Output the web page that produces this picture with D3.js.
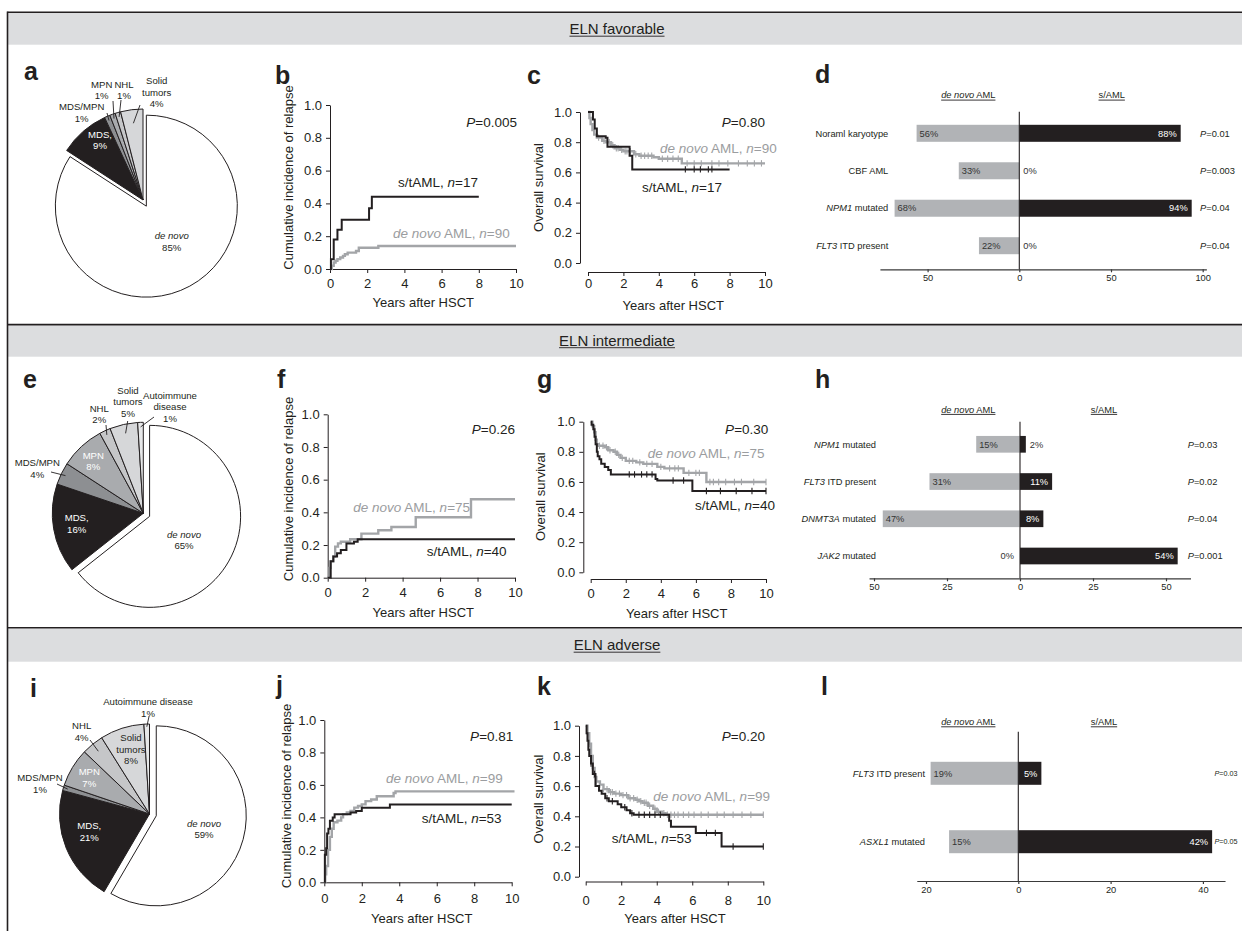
<!DOCTYPE html>
<html>
<head>
<meta charset="utf-8">
<script src="https://cdn.jsdelivr.net/npm/d3@7/dist/d3.min.js"></script>
<style>
html,body{margin:0;padding:0;background:#fff;}
svg{display:block;font-family:"Liberation Sans",Arial,Helvetica,sans-serif;}
</style>
</head>
<body>
<svg id="fig" width="1242" height="931"></svg>
<script>
// ================= DATA =================
const sectionTitles = ["ELN favorable", "ELN intermediate", "ELN adverse"];
const panelLetters = ["a","b","c","d","e","f","g","h","i","j","k","l"];

const pieCategories = ["de novo","MDS","MDS/MPN","MPN","NHL","Solid tumors","Autoimmune disease"];
const pieFavorable    = [85, 9, 1, 1, 1, 4, 0];
const pieIntermediate = [65, 16, 4, 8, 2, 5, 1];
const pieAdverse      = [59, 21, 1, 7, 4, 8, 1];

const kmYearTicks = [0, 2, 4, 6, 8, 10];
const kmProbTicks = [0, 0.2, 0.4, 0.6, 0.8, 1.0];

const nSecondary = [17, 40, 53];
const nDeNovo    = [90, 75, 99];
const pRelapse   = ["0.005", "0.26", "0.81"];
const pSurvival  = ["0.80", "0.30", "0.20"];

// cumulative incidence of relapse [years, value]
const cirFavSecondary = [[0,0],[0.05,0.06],[0.2,0.18],[0.4,0.24],[0.63,0.30],[2.1,0.37],[2.25,0.44],[8.0,0.44]];
const cirFavDeNovo    = [[0,0],[0.1,0.02],[0.2,0.04],[0.3,0.05],[0.4,0.06],[0.55,0.07],[0.7,0.08],[0.8,0.09],[0.95,0.10],[1.4,0.11],[1.55,0.13],[2.6,0.14],[10,0.14]];
const cirIntSecondary = [[0,0],[0.16,0.10],[0.3,0.13],[0.5,0.15],[0.7,0.17],[1.0,0.21],[1.4,0.22],[1.6,0.235],[10,0.235]];
const cirIntDeNovo    = [[0,0],[0.1,0.06],[0.15,0.10],[0.3,0.13],[0.4,0.19],[0.55,0.21],[0.7,0.22],[1.2,0.235],[1.8,0.27],[2.7,0.29],[3.4,0.31],[4.7,0.37],[7.65,0.48],[10,0.48]];
const cirAdvSecondary = [[0,0],[0.03,0.17],[0.1,0.21],[0.15,0.30],[0.22,0.33],[0.3,0.38],[0.45,0.40],[0.55,0.42],[1.4,0.43],[1.7,0.44],[2.0,0.46],[3.5,0.48],[10,0.48]];
const cirAdvDeNovo    = [[0,0],[0.05,0.05],[0.1,0.10],[0.2,0.20],[0.3,0.28],[0.4,0.33],[0.5,0.37],[0.7,0.38],[0.9,0.40],[1.0,0.42],[1.2,0.43],[1.4,0.44],[1.6,0.46],[1.8,0.47],[2.0,0.48],[2.2,0.50],[2.5,0.51],[2.8,0.53],[3.7,0.55],[3.8,0.56],[10.15,0.56]];

// overall survival [years, value]
const osFavSecondary = [[0,1],[0.28,0.95],[0.38,0.89],[0.5,0.84],[1.0,0.83],[1.1,0.77],[2.35,0.71],[2.5,0.62],[8.0,0.62]];
const osFavDeNovo    = [[0,1],[0.08,0.96],[0.15,0.92],[0.25,0.88],[0.35,0.85],[0.5,0.83],[0.8,0.81],[1.0,0.80],[1.3,0.78],[1.5,0.76],[1.8,0.75],[2.0,0.74],[2.6,0.72],[2.9,0.71],[3.7,0.70],[4.0,0.69],[5.3,0.66],[10,0.66]];
const osIntSecondary = [[0,1],[0.05,0.98],[0.15,0.95],[0.22,0.90],[0.28,0.85],[0.35,0.80],[0.4,0.77],[0.5,0.75],[0.6,0.72],[0.8,0.70],[1.0,0.68],[1.15,0.65],[3.7,0.62],[3.8,0.61],[5.8,0.54],[10,0.54]];
const osIntDeNovo    = [[0,1],[0.1,0.97],[0.2,0.93],[0.28,0.88],[0.35,0.85],[0.45,0.84],[0.8,0.83],[1.0,0.81],[1.3,0.80],[1.5,0.78],[1.7,0.76],[2.0,0.74],[2.6,0.73],[3.0,0.72],[3.8,0.70],[4.2,0.69],[5.3,0.66],[6.6,0.60],[10,0.60]];
const osAdvSecondary = [[0,1],[0.05,0.95],[0.1,0.90],[0.15,0.84],[0.2,0.80],[0.3,0.75],[0.4,0.68],[0.55,0.60],[0.75,0.57],[0.9,0.55],[1.1,0.52],[1.3,0.50],[1.8,0.48],[2.0,0.46],[2.3,0.44],[2.5,0.42],[2.7,0.41],[4.7,0.37],[4.8,0.33],[6.2,0.29],[7.65,0.20],[10,0.20]];
const osAdvDeNovo    = [[0,1],[0.1,0.95],[0.2,0.88],[0.3,0.80],[0.4,0.72],[0.5,0.66],[0.6,0.63],[0.8,0.61],[1.0,0.58],[1.3,0.56],[1.6,0.55],[2.0,0.54],[2.4,0.52],[2.8,0.51],[3.0,0.50],[3.2,0.49],[3.5,0.47],[3.8,0.45],[4.0,0.43],[4.3,0.42],[4.5,0.41],[10,0.41]];

// censoring times (years)
const censFavSecondary = [5.5, 6.0, 6.35, 6.8, 7.0];
const censFavDeNovo    = [0.6,0.9,1.2,1.4,1.6,1.7,1.9,2.1,2.2,2.4,2.7,3.0,3.2,3.4,3.6,4.2,4.5,4.8,5.1,5.6,6.0,6.4,7.0,7.4,7.9,8.5,9.0,9.4,9.8];
const censIntSecondary = [2.2,2.5,2.9,3.2,3.5,4.7,5.3,6.6,7.4,8.3,9.2,10];
const censIntDeNovo    = [0.5,0.7,0.9,1.1,1.4,1.6,1.8,2.2,2.4,2.8,3.2,3.5,4.0,4.5,4.8,5.0,5.6,6.0,6.2,6.8,7.0,7.3,7.7,8.2,8.6,9.3,10];
const censAdvSecondary = [0.3,0.5,1.2,1.5,2.2,2.6,3.0,3.3,3.6,3.9,4.2,6.8,7.3,8.3,10];
const censAdvDeNovo    = [0.1,0.2,0.3,0.6,0.8,1.0,1.2,1.4,1.5,1.7,1.9,2.1,2.3,2.5,2.7,2.9,3.1,3.3,3.4,3.6,3.9,4.1,4.4,4.6,4.8,5.0,5.2,5.5,5.8,6.1,6.5,6.9,7.4,7.8,8.3,8.8,9.3,10];

// bar panels
const barHeaders = ["*de novo* AML", "s/AML"];
const favCategories = ["Noraml karyotype", "CBF AML", "*NPM1* mutated", "*FLT3* ITD present"];
const favDeNovo     = [56, 33, 68, 22];
const favSecondary  = [88, 0, 94, 0];
const favP          = ["0.01", "0.003", "0.04", "0.04"];
const favTicks      = [-50, 0, 50, 100];

const intCategories = ["*NPM1* mutated", "*FLT3* ITD present", "*DNMT3A* mutated", "*JAK2* mutated"];
const intDeNovo     = [15, 31, 47, 0];
const intSecondary  = [2, 11, 8, 54];
const intP          = ["0.03", "0.02", "0.04", "0.001"];
const intTicks      = [-50, -25, 0, 25, 50];

const advCategories = ["*FLT3* ITD present", "*ASXL1* mutated"];
const advDeNovo     = [19, 15];
const advSecondary  = [5, 42];
const advP          = ["0.03", "0.05"];
const advTicks      = [-20, 0, 20, 40];

// ================= STYLE / LAYOUT =================
const INK = "#231f20";
const GREY_LINE = "#a3a5a8";
const GREY_TEXT = "#9b9da0";
const BAR_GREY = "#b1b3b6";
const BAND = "#dcdddf";
const pieColors = ["#ffffff", INK, "#8d8f92", "#a9abae", "#c5c6c8", "#d6d7d9", "#e7e8e9"];

const svg = d3.select("#fig");

function rich(g, str, attrs) {
  const t = g.append("text");
  Object.entries(attrs).forEach(([k, v]) => t.attr(k, v));
  str.split("*").forEach((s, i) => {
    if (s) t.append("tspan").attr("font-style", i % 2 ? "italic" : null).text(s);
  });
  return t;
}
function underline(t, y, color) {
  const b = t.node().getBBox();
  d3.select(t.node().parentNode).append("line")
    .attr("x1", b.x).attr("x2", b.x + b.width).attr("y1", y).attr("y2", y)
    .attr("stroke", color).attr("stroke-width", 0.9);
}

// ---------- frame ----------
const frame = svg.append("g");
const bands = [[13, 44.7], [325.4, 356.7], [628.6, 661.7]];
const bandLines = [12.3, 324.6, 627.8];
const titleBase = [34, 345.5, 650];
bands.forEach((b, i) => {
  frame.append("rect").attr("x", 8).attr("y", b[0]).attr("width", 1240).attr("height", b[1] - b[0]).attr("fill", BAND);
  frame.append("line").attr("x1", 7.5).attr("x2", 1242).attr("y1", bandLines[i]).attr("y2", bandLines[i])
    .attr("stroke", INK).attr("stroke-width", 1.6);
  const t = rich(frame, sectionTitles[i], {x: 617, y: titleBase[i], "text-anchor": "middle", "font-size": 15, fill: INK});
  underline(t, titleBase[i] + 2.2, INK);
});
frame.append("line").attr("x1", 7.5).attr("x2", 7.5).attr("y1", 11.5).attr("y2", 931).attr("stroke", INK).attr("stroke-width", 1.6);

// ---------- panel letters ----------
const letterPos = [[24,80],[275,84],[527,84],[815,83],[23,388],[277,388],[537,388],[815,388],[30,697],[276,694],[537,695],[821,695]];
panelLetters.forEach((L, i) => {
  svg.append("text").attr("x", letterPos[i][0]).attr("y", letterPos[i][1]).attr("font-size", 25)
    .attr("font-weight", "bold").attr("fill", INK).text(L);
});

// ---------- pies ----------
function drawPie(values, cfg, labels) {
  const g = svg.append("g").attr("transform", `translate(${cfg.cx},${cfg.cy})`);
  const arcs = d3.pie().sort(null).value(d => d)(values);
  const arc = d3.arc().innerRadius(0).outerRadius(cfg.r);
  arcs.forEach((a, i) => {
    if (a.data === 0) return;
    let tx = 0, ty = 0;
    if (i === 0) {
      const m = (a.startAngle + a.endAngle) / 2;
      tx = Math.sin(m) * cfg.explode; ty = -Math.cos(m) * cfg.explode;
    }
    g.append("path").attr("d", arc(a)).attr("transform", `translate(${tx},${ty})`)
      .attr("fill", pieColors[i]).attr("stroke", INK).attr("stroke-width", 1).attr("stroke-linejoin", "round");
  });
  labels.forEach(lb => {
    const a = arcs[lb.i];
    const lines = lb.lines.concat([values[lb.i] + "%"]);
    lines.forEach((s, k) => {
      rich(svg, s, {x: lb.x, y: lb.y + k * 11.7, "text-anchor": "middle", "font-size": 9.6, fill: lb.fill || INK});
    });
    if (lb.leader) {
      const m = (a.startAngle + a.endAngle) / 2;
      const rr = cfg.r * lb.leader[2];
      svg.append("line").attr("x1", lb.leader[0]).attr("y1", lb.leader[1])
        .attr("x2", cfg.cx + Math.sin(m) * rr).attr("y2", cfg.cy - Math.cos(m) * rr)
        .attr("stroke", INK).attr("stroke-width", 0.9);
    }
  });
}

drawPie(pieFavorable, {cx: 143, cy: 200, r: 91, explode: 7}, [
  {i: 1, lines: ["MDS,"], x: 100, y: 137.5, fill: "#fff"},
  {i: 0, lines: ["*de novo*"], x: 171.7, y: 239},
  {i: 2, lines: ["MDS/MPN"], x: 81.7, y: 110, leader: [107, 113, 0.95]},
  {i: 3, lines: ["MPN"], x: 101.7, y: 87.5, leader: [113, 101, 0.95]},
  {i: 4, lines: ["NHL"], x: 124, y: 87.5, leader: [121, 100, 0.95]},
  {i: 5, lines: ["Solid", "tumors"], x: 156.7, y: 84, leader: [140, 105, 0.85]}
]);
drawPie(pieIntermediate, {cx: 143.3, cy: 513.3, r: 91, explode: 7}, [
  {i: 1, lines: ["MDS,"], x: 76.7, y: 521, fill: "#fff"},
  {i: 0, lines: ["*de novo*"], x: 184, y: 537.5},
  {i: 2, lines: ["MDS/MPN"], x: 37.3, y: 466, leader: [51, 472, 0.95]},
  {i: 3, lines: ["MPN"], x: 93.3, y: 458.5, fill: "#fff"},
  {i: 4, lines: ["NHL"], x: 99.3, y: 411.5, leader: [106, 425, 0.95]},
  {i: 5, lines: ["Solid", "tumors"], x: 128, y: 393.5, leader: [127.7, 421, 0.9]},
  {i: 6, lines: ["Autoimmune", "disease"], x: 170, y: 398.5, leader: [154, 417, 0.95]}
]);
drawPie(pieAdverse, {cx: 149.5, cy: 814, r: 90, explode: 7}, [
  {i: 1, lines: ["MDS,"], x: 89.3, y: 829, fill: "#fff"},
  {i: 0, lines: ["*de novo*"], x: 204, y: 826.5},
  {i: 2, lines: ["MDS/MPN"], x: 40, y: 781, leader: [57, 784, 0.95]},
  {i: 3, lines: ["MPN"], x: 89.3, y: 775, fill: "#fff"},
  {i: 4, lines: ["NHL"], x: 81.7, y: 729, leader: [90, 740, 0.9]},
  {i: 5, lines: ["Solid", "tumors"], x: 131, y: 741},
  {i: 6, lines: ["Autoimmune disease"], x: 148, y: 705, leader: [149, 716.5, 0.97]}
]);

// ---------- KM / CIR panels ----------
function stepValue(data, t) {
  let v = data[0][1];
  data.forEach(d => { if (d[0] <= t) v = d[1]; });
  return v;
}
function kmPanel(c) {
  const x = d3.scaleLinear().domain([0, 10]).range([c.x0, c.x1]);
  const y = d3.scaleLinear().domain([0, 1]).range([c.y0, c.y1]);
  const g = svg.append("g");
  const tick = 4, fs = 13;
  const ax = g.append("g").attr("transform", `translate(0,${c.xAxisY})`)
    .call(d3.axisBottom(x).tickValues(kmYearTicks).tickFormat(d3.format("d")).tickSize(tick).tickSizeOuter(0)
      .tickPadding(c.xLab - c.xAxisY - tick - 0.71 * fs));
  const ay = g.append("g").attr("transform", `translate(${c.yAxisX},0)`)
    .call(d3.axisLeft(y).tickValues(kmProbTicks).tickFormat(d3.format(".1f")).tickSize(tick).tickSizeOuter(0).tickPadding(4));
  [ax, ay].forEach(a => {
    a.selectAll("path,line").attr("stroke", INK).attr("stroke-width", 1);
    a.selectAll("text").attr("font-size", fs).attr("fill", INK).attr("font-family", null);
  });
  g.append("text").attr("x", c.xTitle[0]).attr("y", c.xTitle[1]).attr("text-anchor", "middle")
    .attr("font-size", 13).attr("fill", INK).text("Years after HSCT");
  g.append("text").attr("transform", `translate(${c.yTitle[0]},${c.yTitle[1]}) rotate(-90)`)
    .attr("text-anchor", "middle").attr("font-size", 13).attr("fill", INK).text(c.yTitle[2]);
  const line = d3.line().x(d => x(d[0])).y(d => y(d[1])).curve(d3.curveStepAfter);
  c.curves.forEach(cv => {
    g.append("path").attr("d", line(cv.data)).attr("fill", "none").attr("stroke", cv.color)
      .attr("stroke-width", cv.width).attr("stroke-linejoin", "miter");
    (cv.cens || []).forEach(t => {
      const v = stepValue(cv.data, t);
      g.append("line").attr("x1", x(t)).attr("x2", x(t)).attr("y1", y(v) - 3.2).attr("y2", y(v) + 3.2)
        .attr("stroke", cv.color).attr("stroke-width", 1.1);
    });
  });
  rich(g, "*P*=" + c.p, {x: c.pPos[0], y: c.pPos[1], "text-anchor": "end", "font-size": 13.5, fill: INK});
  rich(g, "s/tAML, *n*=" + c.nS, {x: c.sPos[0], y: c.sPos[1], "font-size": 13.5, fill: INK});
  rich(g, "*de novo* AML, *n*=" + c.nD, {x: c.dPos[0], y: c.dPos[1], "font-size": 13.5, fill: GREY_TEXT});
}

const CIR = "Cumulative incidence of relapse", OS = "Overall survival";
kmPanel({x0: 330, x1: 516, y0: 269, y1: 105, xAxisY: 269, yAxisX: 330, xLab: 288, xTitle: [423.3, 307], yTitle: [292.6, 177.5, CIR],
  p: pRelapse[0], nS: nSecondary[0], nD: nDeNovo[0], pPos: [517, 127], sPos: [398, 186.5], dPos: [393, 237.5],
  curves: [{data: cirFavDeNovo, color: GREY_LINE, width: 2.4}, {data: cirFavSecondary, color: INK, width: 2}]});
kmPanel({x0: 588, x1: 765, y0: 263, y1: 112, xAxisY: 272, yAxisX: 580, xLab: 288, xTitle: [673.3, 309.7], yTitle: [543, 187.5, OS],
  p: pSurvival[0], nS: nSecondary[0], nD: nDeNovo[0], pPos: [765, 127], sPos: [642, 192], dPos: [660, 153],
  curves: [{data: osFavDeNovo, color: GREY_LINE, width: 2.4, cens: censFavDeNovo}, {data: osFavSecondary, color: INK, width: 2, cens: censFavSecondary}]});
kmPanel({x0: 327.7, x1: 515, y0: 577.7, y1: 414.3, xAxisY: 577.7, yAxisX: 327.7, xLab: 597.5, xTitle: [423.3, 616.5], yTitle: [293, 489, CIR],
  p: pRelapse[1], nS: nSecondary[1], nD: nDeNovo[1], pPos: [515, 434], sPos: [426.7, 556.4], dPos: [353.3, 512.4],
  curves: [{data: cirIntDeNovo, color: GREY_LINE, width: 2.4}, {data: cirIntSecondary, color: INK, width: 2}]});
kmPanel({x0: 590.7, x1: 766, y0: 572.3, y1: 421.7, xAxisY: 579, yAxisX: 583.3, xLab: 598, xTitle: [676.7, 617.5], yTitle: [544.6, 496.7, OS],
  p: pSurvival[1], nS: nSecondary[1], nD: nDeNovo[1], pPos: [768.3, 434], sPos: [695, 509.7], dPos: [647.7, 458],
  curves: [{data: osIntDeNovo, color: GREY_LINE, width: 2.4, cens: censIntDeNovo}, {data: osIntSecondary, color: INK, width: 2, cens: censIntSecondary}]});
kmPanel({x0: 324.3, x1: 511.7, y0: 882.3, y1: 720, xAxisY: 882.3, yAxisX: 324.3, xLab: 903, xTitle: [421.7, 923], yTitle: [291.3, 796, CIR],
  p: pRelapse[2], nS: nSecondary[2], nD: nDeNovo[2], pPos: [513.3, 741.4], sPos: [421.7, 823], dPos: [386, 783],
  curves: [{data: cirAdvDeNovo, color: GREY_LINE, width: 2.4}, {data: cirAdvSecondary, color: INK, width: 2}]});
kmPanel({x0: 585.7, x1: 763.3, y0: 876.7, y1: 725.7, xAxisY: 881.5, yAxisX: 579, xLab: 904.7, xTitle: [675, 923], yTitle: [543, 799, OS],
  p: pSurvival[2], nS: nSecondary[2], nD: nDeNovo[2], pPos: [765, 741.4], sPos: [611.7, 843], dPos: [653.3, 801.4],
  curves: [{data: osAdvDeNovo, color: GREY_LINE, width: 2.4, cens: censAdvDeNovo}, {data: osAdvSecondary, color: INK, width: 2, cens: censAdvSecondary}]});

// ---------- bar panels ----------
function barPanel(cats, dn, sa, pv, ticks, c) {
  const x = d3.scaleLinear().domain([c.min, c.max]).range([c.zero + c.min * c.k, c.zero + c.max * c.k]);
  const y = d3.scalePoint().domain(d3.range(cats.length)).range([c.yTop, c.yBot]);
  const g = svg.append("g");
  const fs = 9.3;
  cats.forEach((cat, i) => {
    const yc = y(i), h = c.bh;
    if (dn[i] > 0) g.append("rect").attr("x", x(-dn[i])).attr("y", yc - h / 2).attr("width", x(0) - x(-dn[i])).attr("height", h).attr("fill", BAR_GREY);
    if (sa[i] > 0) g.append("rect").attr("x", x(0)).attr("y", yc - h / 2).attr("width", x(sa[i]) - x(0)).attr("height", h).attr("fill", INK);
    rich(g, cat, {x: c.labX, y: yc, dy: "0.35em", "text-anchor": "end", "font-size": fs, fill: INK});
    if (dn[i] > 0) g.append("text").attr("x", x(-dn[i]) + 3).attr("y", yc).attr("dy", "0.35em").attr("font-size", fs).attr("fill", "#333").text(dn[i] + "%");
    else g.append("text").attr("x", x(0) - 6).attr("y", yc).attr("dy", "0.35em").attr("text-anchor", "end").attr("font-size", fs).attr("fill", "#333").text(dn[i] + "%");
    if (sa[i] >= 5) g.append("text").attr("x", x(sa[i]) - 4).attr("y", yc).attr("dy", "0.35em").attr("text-anchor", "end").attr("font-size", fs).attr("fill", "#fff").text(sa[i] + "%");
    else g.append("text").attr("x", x(sa[i]) + 4).attr("y", yc).attr("dy", "0.35em").attr("font-size", fs).attr("fill", "#333").text(sa[i] + "%");
    rich(g, "*P*=" + pv[i], {x: c.pX, y: yc, dy: "0.35em", "font-size": c.pFs || fs, fill: INK});
  });
  g.append("line").attr("x1", x(0)).attr("x2", x(0)).attr("y1", c.zTop).attr("y2", c.axisY).attr("stroke", INK).attr("stroke-width", 1.1);
  const ax = g.append("g").attr("transform", `translate(0,${c.axisY})`)
    .call(d3.axisBottom(x).tickValues(ticks).tickFormat(d => Math.abs(d)).tickSize(3).tickSizeOuter(0).tickPadding(2));
  ax.selectAll("path,line").attr("stroke", "#3a3a3a").attr("stroke-width", 1.2);
  ax.selectAll("text").attr("font-size", fs).attr("fill", INK).attr("font-family", null);
  const h1 = rich(g, barHeaders[0], {x: c.h1X, y: c.hY, "text-anchor": "middle", "font-size": fs, fill: INK});
  underline(h1, c.hY + 1.8, INK);
  const h2 = rich(g, barHeaders[1], {x: c.h2X, y: c.hY, "text-anchor": "middle", "font-size": fs, fill: INK});
  underline(h2, c.hY + 1.8, INK);
}

barPanel(favCategories, favDeNovo, favSecondary, favP, favTicks,
  {zero: 1019.3, k: 1.834, min: -76, max: 102, yTop: 133.3, yBot: 245.7, bh: 17, zTop: 111.7, axisY: 269.3,
   labX: 888.3, pX: 1200, h1X: 968.3, h2X: 1111.7, hY: 98.3});
barPanel(intCategories, intDeNovo, intSecondary, intP, intTicks,
  {zero: 1020, k: 2.92, min: -51.7, max: 58.4, yTop: 444.3, yBot: 556, bh: 16.7, zTop: 421.7, axisY: 578.3,
   labX: 876, pX: 1187.7, h1X: 968.3, h2X: 1104, hY: 412.6});
barPanel(advCategories, advDeNovo, advSecondary, advP, advTicks,
  {zero: 1018.3, k: 4.615, min: -22, max: 44.8, yTop: 773.3, yBot: 841.7, bh: 23, zTop: 731.7, axisY: 881,
   labX: 925, pX: 1214.5, pFs: 7.2, h1X: 968.3, h2X: 1104, hY: 725});
</script>
</body>
</html>
